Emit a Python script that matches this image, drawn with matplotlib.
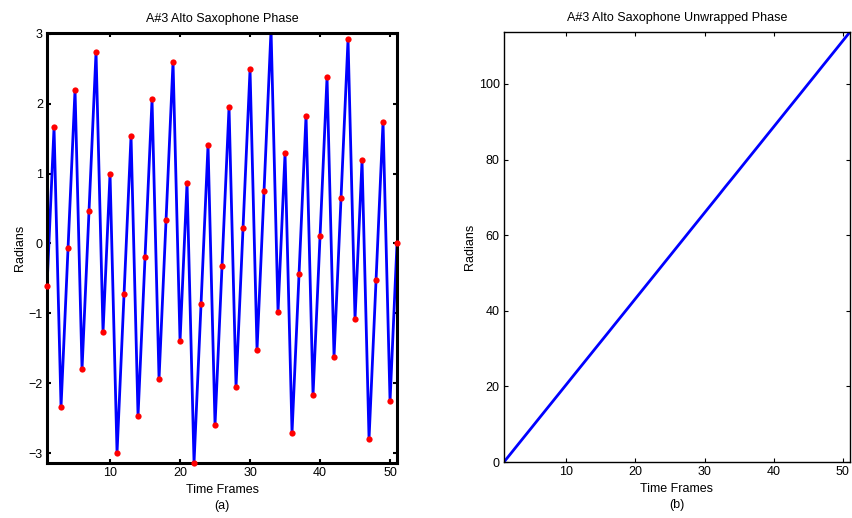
import numpy as np
import matplotlib
matplotlib.use("Agg")
import matplotlib.pyplot as plt

plt.rcParams['font.family'] = ['Liberation Sans', 'DejaVu Sans']
plt.rcParams['font.size'] = 9

# wrapped phase, one value per time frame
frames = np.arange(1, 52)
phase = [-0.61, 1.66, -2.34, -0.07, 2.20, -1.80, 0.47, 2.74, -1.27, 1.00,
         -3.00, -0.73, 1.54, -2.47, -0.20, 2.06, -1.94, 0.33, 2.60, -1.40,
         0.87, -3.14, -0.87, 1.41, -2.60, -0.32, 1.95, -2.05, 0.22, 2.49,
         -1.52, 0.75, 3.06, -0.98, 1.29, -2.71, -0.44, 1.83, -2.17, 0.10,
         2.38, -1.62, 0.65, 2.92, -1.08, 1.19, -2.80, -0.53, 1.74, -2.26,
         0.01]

# unwrapped phase (right panel) derived from the same values
unwrapped = np.unwrap(phase)
unwrapped = unwrapped - unwrapped[0]

fig = plt.figure(figsize=(8.52, 5.18), dpi=100)

# left panel: wrapped phase
ylo, yhi = -3.142, 3.01
ax1 = fig.add_axes([0.0552, 0.1062, 0.4108, 0.830])
ax1.plot(frames, phase, color="blue", linewidth=2)
# like matlab: markers inside the limits are drawn whole, ones outside are dropped
p = np.array(phase)
inside = (p >= ylo) & (p <= yhi)
ax1.plot(frames[inside], p[inside], "o", color="red", markersize=4.5,
         markeredgewidth=0, clip_on=False, zorder=3)
ax1.set_xlim(1, 51)
ax1.set_ylim(ylo, yhi)
ax1.set_yticks([-3, -2, -1, 0, 1, 2, 3])
ax1.set_yticklabels(["\u22123", "\u22122", "\u22121", "0", "1", "2", "3"])
ax1.set_xticks([10, 20, 30, 40, 50])
ax1.set_title("A#3 Alto Saxophone Phase", fontsize=9, pad=8)
ax1.set_xlabel("Time Frames\n(a)", labelpad=3.5, linespacing=1.45)
ax1.set_ylabel("Radians", labelpad=2)
for s in ax1.spines.values():
    s.set_linewidth(2.2)
ax1.tick_params(direction="in", length=3, width=1.5, top=True, right=True, pad=3)

# right panel: unwrapped phase
ax2 = fig.add_axes([0.5915, 0.1081, 0.406, 0.830])
ax2.plot(frames, unwrapped, color="blue", linewidth=2)
ax2.set_xlim(1, 51)
ax2.set_ylim(0, unwrapped[-1])
ax2.set_yticks([0, 20, 40, 60, 80, 100])
ax2.set_xticks([10, 20, 30, 40, 50])
ax2.set_title("A#3 Alto Saxophone Unwrapped Phase", fontsize=9, pad=8)
ax2.set_xlabel("Time Frames\n(b)", labelpad=3.5, linespacing=1.45)
ax2.set_ylabel("Radians", labelpad=2)
for s in ax2.spines.values():
    s.set_linewidth(1.0)
ax2.tick_params(direction="in", length=3, width=0.8, top=True, right=True, pad=3)

fig.savefig("out.png", dpi=100)
